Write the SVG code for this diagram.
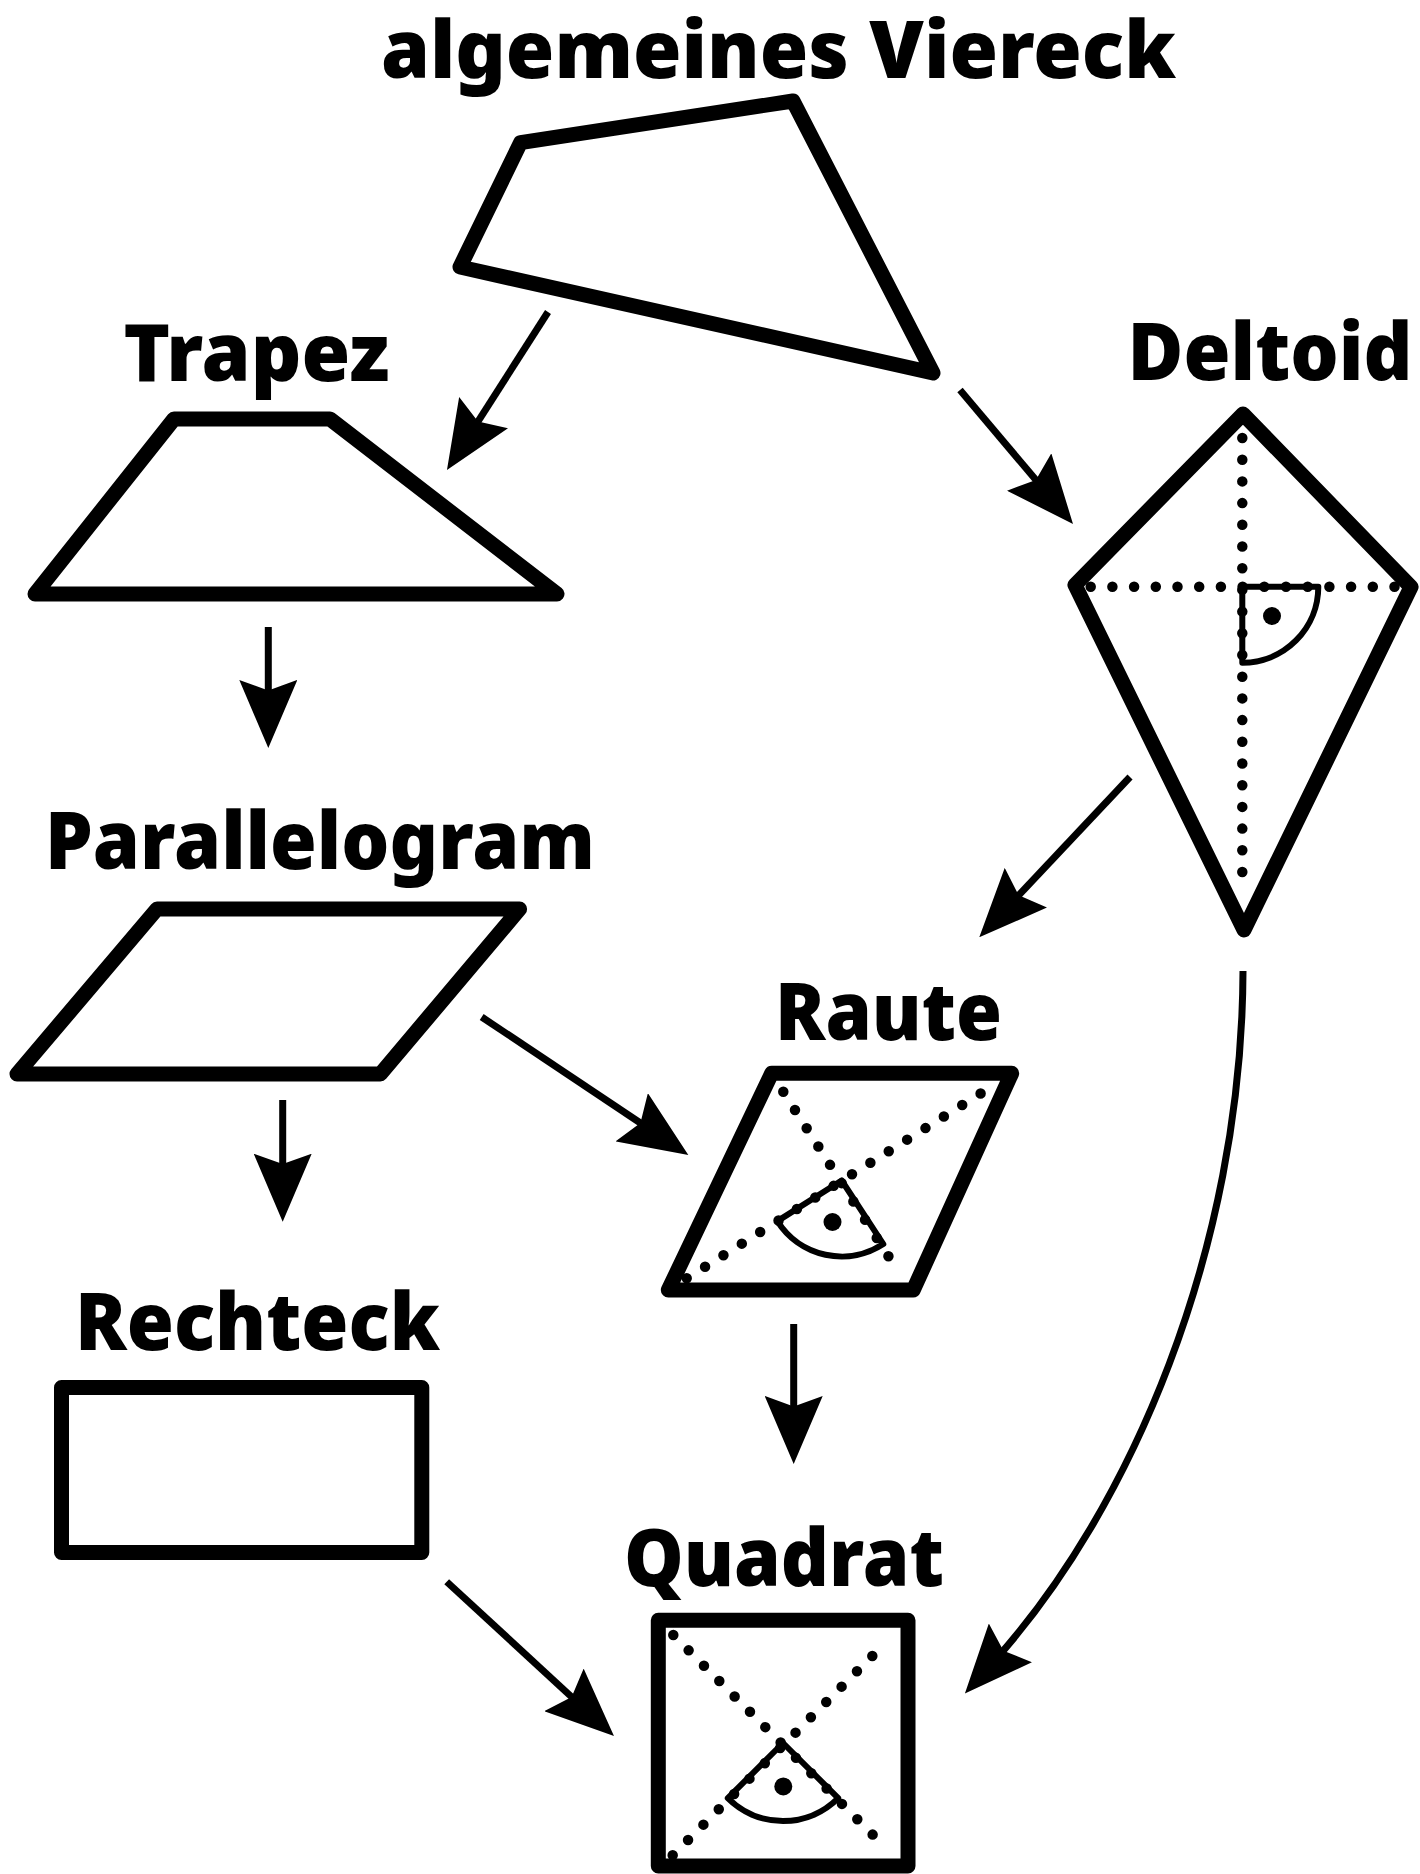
<svg xmlns="http://www.w3.org/2000/svg" width="1420" height="1874" viewBox="0 0 1420 1874">
<defs>
<style>
.shape{fill:none;stroke:#000;stroke-width:15;stroke-linejoin:round;stroke-linecap:round}
.dots{fill:none;stroke:#000;stroke-width:10.5;stroke-linecap:round;stroke-dasharray:0 21.7}
.angle{fill:none;stroke:#000;stroke-width:6;stroke-linejoin:round}
.label{font-family:"Noto Sans","Open Sans",sans-serif;font-weight:900;font-size:79px;text-anchor:middle;fill:#000}
.conn{fill:none;stroke:#000;stroke-width:7;marker-end:url(#arrow)}
</style>
<marker id="arrow" viewBox="0 0 68 58" markerWidth="68" markerHeight="58" markerUnits="userSpaceOnUse" refX="23" refY="29" orient="auto">
<path d="M0,0 L68,29 L0,58 L10.4,29 Z" fill="#000"/>
</marker>
</defs>
<rect width="1420" height="1874" fill="#fff"/>

<g id="connectors">
<line class="conn" x1="548" y1="312" x2="471.2" y2="432.1"/>
<line class="conn" x1="960" y1="390" x2="1044" y2="489.6"/>
<line class="conn" x1="268.3" y1="627" x2="268.3" y2="703"/>
<line class="conn" x1="1130" y1="777" x2="1010.1" y2="904.5"/>
<line class="conn" x1="481.7" y1="1017" x2="650.9" y2="1130"/>
<line class="conn" x1="282.7" y1="1100" x2="282.7" y2="1176.7"/>
<line class="conn" x1="793.7" y1="1324" x2="793.7" y2="1419"/>
<line class="conn" x1="446.7" y1="1581.7" x2="580.9" y2="1705.5"/>
<path class="conn" d="M1243,971 C1242,1250 1130,1510 995,1660"/>
</g>

<g id="viereck">
<text class="label" x="778.5" y="78" textLength="795" lengthAdjust="spacingAndGlyphs">algemeines Viereck</text>
<polygon class="shape" points="520.5,142.7 793,101 933,373 460,267"/>
</g>

<g id="trapez">
<text class="label" x="256.5" y="381" textLength="266" lengthAdjust="spacingAndGlyphs">Trapez</text>
<polygon class="shape" points="174,419 330,419 557,594 35,594"/>
</g>

<g id="deltoid">
<text class="label" x="1270" y="380" textLength="285" lengthAdjust="spacingAndGlyphs">Deltoid</text>
<line class="dots" x1="1242.3" y1="438" x2="1242.3" y2="893"/>
<line class="dots" x1="1090.7" y1="586.7" x2="1395" y2="586.7"/>
<path class="angle" d="M1242.3,586.7 L1318.3,586.7 A76,76 0 0 1 1242.3,662.7 Z"/>
<circle cx="1272" cy="616" r="9"/>
<polygon class="shape" points="1243,414 1411,587 1244,930 1075,585"/>
</g>

<g id="parallelogram">
<text class="label" x="320" y="869" textLength="550" lengthAdjust="spacingAndGlyphs">Parallelogram</text>
<polygon class="shape" points="157,909 519.6,909 380.4,1074 17,1074"/>
</g>

<g id="raute">
<text class="label" x="888.5" y="1040" textLength="227" lengthAdjust="spacingAndGlyphs">Raute</text>
<line class="dots" x1="783.3" y1="1091.7" x2="899.3" y2="1273.3"/>
<line class="dots" x1="686.7" y1="1278.3" x2="994" y2="1085"/>
<path class="angle" d="M841.7,1180.5 L883.3,1244.1 A76,76 0 0 1 777.4,1221.1 Z"/>
<circle cx="832.5" cy="1222" r="9"/>
<polygon class="shape" points="771.7,1073.3 1011.7,1073.3 913.3,1290 668.3,1290"/>
</g>

<g id="rechteck">
<text class="label" x="257.5" y="1350" textLength="365" lengthAdjust="spacingAndGlyphs">Rechteck</text>
<rect class="shape" x="61.5" y="1387.5" width="360.3" height="165"/>
</g>

<g id="quadrat">
<text class="label" x="784" y="1586" textLength="320" lengthAdjust="spacingAndGlyphs">Quadrat</text>
<line class="dots" x1="673.3" y1="1635" x2="887.3" y2="1849.3"/>
<line class="dots" x1="672.7" y1="1855.3" x2="887.3" y2="1641"/>
<path class="angle" d="M783,1743 L838.2,1798.2 A78,78 0 0 1 727.8,1798.2 Z"/>
<circle cx="783.3" cy="1786.5" r="9"/>
<rect class="shape" x="658.3" y="1620.3" width="249.7" height="245.7"/>
</g>
</svg>
